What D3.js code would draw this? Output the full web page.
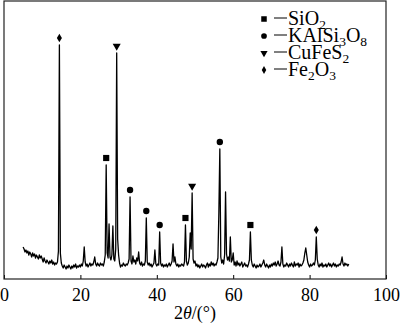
<!DOCTYPE html>
<html>
<head>
<meta charset="utf-8">
<script src="https://cdn.jsdelivr.net/npm/d3@7"></script>
<style>
  html, body { margin: 0; padding: 0; background: #fff; }
  svg { display: block; }
</style>
</head>
<body>
<svg id="chart" width="400" height="323"></svg>
<script>
// XRD pattern, scanned from 5° to 90.25° in 0.25° steps (relative intensity)
const angleStart = 5;
const angleStep = 0.25;
const intensity = [
  32, 30, 27, 29, 26, 28, 24, 27, 25, 22, 26, 23, 25, 21, 24, 22, 20, 24, 21, 23,   // 5–9.75
  20, 17, 21, 18, 16, 19, 17, 15, 18, 16, 19, 15, 17, 14, 16, 15, 17, 28, 234, 26,  // 10–14.75
  16, 13, 11, 14, 12, 10, 13, 11, 14, 12, 10, 13, 11, 14, 12, 15, 11, 13, 12, 14,   // 15–19.75
  12, 15, 13, 18, 32, 17, 13, 15, 12, 14, 16, 13, 15, 14, 17, 22, 15, 13, 16, 14,   // 20–24.75
  13, 16, 14, 15, 13, 17, 24, 114, 26, 21, 55, 22, 19, 24, 53, 20, 18, 30, 226, 40, // 25–29.75
  24, 16, 12, 14, 13, 16, 14, 13, 15, 14, 16, 20, 82, 18, 15, 23, 17, 19, 15, 21,   // 30–34.75
  18, 27, 16, 14, 17, 13, 15, 14, 18, 61, 17, 14, 16, 13, 15, 12, 14, 16, 29, 15,   // 35–39.75
  13, 15, 14, 47, 16, 13, 15, 12, 14, 13, 15, 12, 14, 16, 13, 15, 18, 35, 17, 22,   // 40–44.75
  15, 13, 15, 12, 14, 13, 15, 14, 13, 17, 54, 18, 14, 16, 22, 46, 30, 86, 20, 16,   // 45–49.75
  18, 13, 15, 12, 14, 11, 13, 15, 12, 14, 13, 11, 14, 16, 12, 15, 13, 17, 14, 16,   // 50–54.75
  13, 15, 14, 17, 21, 67, 130, 22, 16, 19, 15, 24, 87, 25, 19, 22, 18, 42, 17, 19,  // 55–59.75
  26, 14, 17, 13, 18, 14, 16, 13, 15, 17, 12, 14, 16, 13, 14, 12, 15, 19, 47, 19,   // 60–64.75
  14, 12, 15, 13, 11, 14, 12, 13, 15, 12, 14, 16, 19, 14, 12, 15, 13, 11, 14, 12,   // 65–69.75
  15, 13, 16, 14, 17, 13, 15, 18, 14, 13, 17, 32, 15, 12, 14, 13, 16, 14, 12, 15,   // 70–74.75
  13, 16, 14, 12, 17, 13, 15, 14, 16, 12, 15, 13, 14, 16, 19, 26, 31, 24, 17, 14,   // 75–79.75
  12, 15, 13, 14, 16, 14, 19, 42, 20, 14, 12, 15, 13, 16, 12, 14, 13, 15, 12, 14,   // 80–84.75
  16, 13, 15, 12, 14, 16, 13, 15, 12, 14, 13, 15, 14, 17, 22, 15, 13, 16, 14, 15,   // 85–89.75
  13, 15                                                                            // 90–90.25
];

// Phase legend (text runs, subscript flag) and the peaks assigned to each phase
const phaseNames = [
  [["SiO", false], ["2", true]],
  [["KAlSi", false], ["3", true], ["O", false], ["8", true]],
  [["CuFeS", false], ["2", true]],
  [["Fe", false], ["2", true], ["O", false], ["3", true]]
];
const phaseSymbols = ["square", "circle", "triangle", "diamond"];
const peakAngles = [14.5, 26.75, 29.5, 33.0, 37.25, 40.75, 47.5, 49.25, 56.5, 64.5, 81.75];
const peakPhases = [3, 0, 2, 1, 1, 1, 0, 2, 1, 0, 3];
const xTicks = [0, 20, 40, 60, 80, 100];

const serif = "'Liberation Serif', serif";
const pattern = intensity.map((v, i) => ({ angle: angleStart + i * angleStep, value: v }));

const svg = d3.select("#chart");
const plot = { left: 4, right: 386, top: 1, bottom: 279 };

const x = d3.scaleLinear().domain([0, 100]).range([plot.left, plot.right]);
const y = d3.scaleLinear().domain([0, 278]).range([plot.bottom, plot.top]);

// Diffraction trace
svg.append("path")
  .datum(pattern)
  .attr("fill", "none")
  .attr("stroke", "#000")
  .attr("stroke-width", 1.3)
  .attr("stroke-linejoin", "round")
  .attr("d", d3.line().x(d => x(d.angle)).y(d => y(d.value)));

// Bottom axis with inward ticks
const xAxis = d3.axisBottom(x).tickValues(xTicks).tickSize(-4).tickPadding(9).tickFormat(d3.format("d"));
const gx = svg.append("g").attr("transform", `translate(0,${plot.bottom})`).call(xAxis);
gx.attr("font-family", null).attr("font-size", null);
gx.select(".domain").remove();
gx.selectAll(".tick line").attr("stroke", "#000");
gx.selectAll(".tick text").style("font-family", serif).style("font-size", "18px").attr("fill", "#000");

// Plot frame
svg.append("rect")
  .attr("x", plot.left).attr("y", plot.top)
  .attr("width", plot.right - plot.left).attr("height", plot.bottom - plot.top)
  .attr("fill", "none").attr("stroke", "#222").attr("stroke-width", 1.2);

// Axis title
const title = svg.append("text")
  .attr("x", 195).attr("y", 319)
  .attr("text-anchor", "middle")
  .style("font-family", serif)
  .style("font-size", "18px");
title.append("tspan").text("2");
title.append("tspan").style("font-style", "italic").text("θ");
title.append("tspan").text("/(°)");

// Marker shapes
const symbolTypes = {
  square: d3.symbolSquare,
  circle: d3.symbolCircle,
  triangle: d3.symbolTriangle,
  diamond: d3.symbolDiamond
};
const symbolAreas = { square: 38, circle: 32, triangle: 28, diamond: 22 };
function drawSymbol(g, kind, cx, cy, scale) {
  g.append("path")
    .attr("d", d3.symbol().type(symbolTypes[kind]).size(symbolAreas[kind] * scale)())
    .attr("transform", `translate(${cx},${cy})` + (kind === "triangle" ? " rotate(180)" : ""))
    .attr("fill", "#000");
}

// Peak markers above each assigned peak
const peaks = svg.append("g");
peakAngles.forEach((a, i) => {
  const near = pattern.filter(d => Math.abs(d.angle - a) <= 0.3);
  const top = d3.max(near, d => d.value);
  drawSymbol(peaks, phaseSymbols[peakPhases[i]], x(a), y(top) - 7, 1);
});

// Legend
const legend = svg.append("g");
phaseNames.forEach((parts, i) => {
  const cy = 19 + i * 17;
  drawSymbol(legend, phaseSymbols[i], 264, cy, 0.8);
  legend.append("line")
    .attr("x1", 274).attr("x2", 287).attr("y1", cy - 1).attr("y2", cy - 1)
    .attr("stroke", "#000").attr("stroke-width", 1);
  const t = legend.append("text").attr("x", 288).attr("y", cy + 6)
    .style("font-family", serif).style("font-size", "20px");
  let lowered = false;
  parts.forEach(([s, sub]) => {
    const ts = t.append("tspan").text(s);
    if (sub && !lowered) { ts.attr("dy", 4).style("font-size", "13.5px"); lowered = true; }
    else if (sub) { ts.style("font-size", "13.5px"); }
    else if (lowered) { ts.attr("dy", -4); lowered = false; }
  });
});
</script>
</body>
</html>
